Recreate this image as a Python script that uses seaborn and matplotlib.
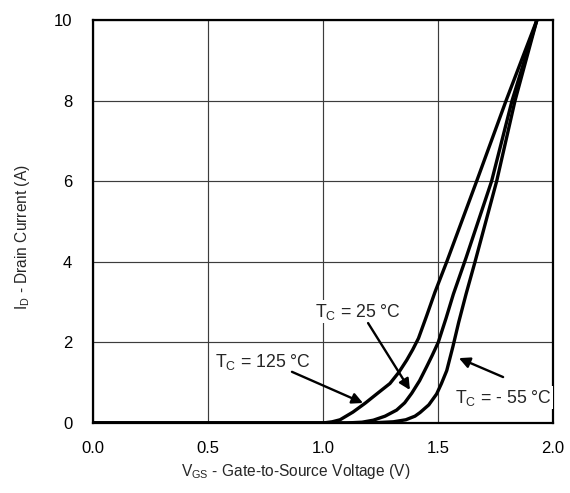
import matplotlib
matplotlib.use("Agg")
import matplotlib.pyplot as plt
import seaborn as sns
import pandas as pd

# ---- data ----
v_125 = [0.0, 1.0, 1.04, 1.074, 1.13, 1.183, 1.24, 1.291, 1.33, 1.364, 1.39, 1.415, 1.45, 1.487, 1.538, 1.668, 1.796, 1.93]
i_125 = [0.0, 0.0, 0.03, 0.08, 0.27, 0.49, 0.75, 0.98, 1.26, 1.56, 1.82, 2.1, 2.65, 3.25, 4.0, 6.0, 8.0, 10.0]

v_25 = [0.0, 1.1, 1.17, 1.219, 1.27, 1.32, 1.355, 1.386, 1.42, 1.451, 1.475, 1.501, 1.535, 1.567, 1.622, 1.733, 1.822, 1.93]
i_25 = [0.0, 0.0, 0.02, 0.07, 0.17, 0.32, 0.5, 0.74, 1.05, 1.40, 1.68, 2.0, 2.6, 3.2, 4.1, 6.0, 8.0, 10.0]

v_m55 = [0.0, 1.2, 1.306, 1.36, 1.40, 1.422, 1.46, 1.494, 1.515, 1.538, 1.565, 1.59, 1.622, 1.661, 1.755, 1.835, 1.93]
i_m55 = [0.0, 0.0, 0.03, 0.08, 0.17, 0.26, 0.45, 0.72, 0.98, 1.3, 1.9, 2.5, 3.2, 4.0, 6.0, 8.0, 10.0]

x_ticks = [0.0, 0.5, 1.0, 1.5, 2.0]
y_ticks = [0, 2, 4, 6, 8, 10]

sns.set_style("white")
plt.rcParams['font.family'] = ['Liberation Sans', 'DejaVu Sans']
plt.rcParams['mathtext.default'] = 'regular'

frames = []
for name, v, i in [("125", v_125, i_125), ("25", v_25, i_25), ("-55", v_m55, i_m55)]:
    frames.append(pd.DataFrame({"V": v, "I": i, "T": name}))
df = pd.concat(frames, ignore_index=True)

fig = plt.figure(figsize=(5.7, 4.93), dpi=100)
ax = fig.add_axes([93/570, 70/493, 460/570, 403/493])

ax.set_xlim(0, 2.0)
ax.set_ylim(0, 10)
ax.set_xticks(x_ticks)
ax.set_yticks(y_ticks)
ax.set_xticklabels([f"{t:.1f}" for t in x_ticks])
ax.set_yticklabels([f"{t:d}" for t in y_ticks])
ax.grid(True, color="#3c3c3c", linewidth=0.85, zorder=0)
ax.set_axisbelow(True)

sns.lineplot(data=df, x="V", y="I", units="T", estimator=None, sort=False,
             color="black", linewidth=2.4, ax=ax, legend=False, zorder=3,
             solid_capstyle="butt", solid_joinstyle="round")

for s in ax.spines.values():
    s.set_color("black")
    s.set_linewidth(1.6)

ax.tick_params(axis="both", length=0, labelsize=12, colors="black")
ax.tick_params(axis="x", pad=13)
ax.tick_params(axis="y", pad=15)

ax.set_xlabel("V$_{GS}$ - Gate-to-Source Voltage (V)", fontsize=11.2)
ax.set_ylabel("I$_{D}$ - Drain Current (A)", fontsize=11.2)
ax.xaxis.set_label_coords(0.441, -0.097)
ax.yaxis.set_label_coords(-0.133, 0.46)

fs_ann = 12.7
bbox = dict(facecolor="white", edgecolor="none", pad=1.0)
ax.text(0.530, 1.40, "T$_{C}$ = 125 °C", fontsize=fs_ann, ha="left", va="baseline", bbox=bbox, zorder=5)
ax.text(0.965, 2.64, "T$_{C}$ = 25 °C", fontsize=fs_ann, ha="left", va="baseline", bbox=bbox, zorder=5)
ax.text(1.574, 0.50, "T$_{C}$ = - 55 °C", fontsize=fs_ann, ha="left", va="baseline", bbox=bbox, zorder=5, clip_on=False)

arrow = dict(arrowstyle="-|>", color="black", lw=1.7, mutation_scale=16, shrinkA=0, shrinkB=0)
ax.annotate("", xy=(1.174, 0.496), xytext=(0.865, 1.27), arrowprops=arrow, zorder=6)
ax.annotate("", xy=(1.378, 0.82), xytext=(1.196, 2.48), arrowprops=arrow, zorder=6)
ax.annotate("", xy=(1.591, 1.61), xytext=(1.783, 1.14), arrowprops=arrow, zorder=6)

fig.savefig("out.png", dpi=100, facecolor="white")
